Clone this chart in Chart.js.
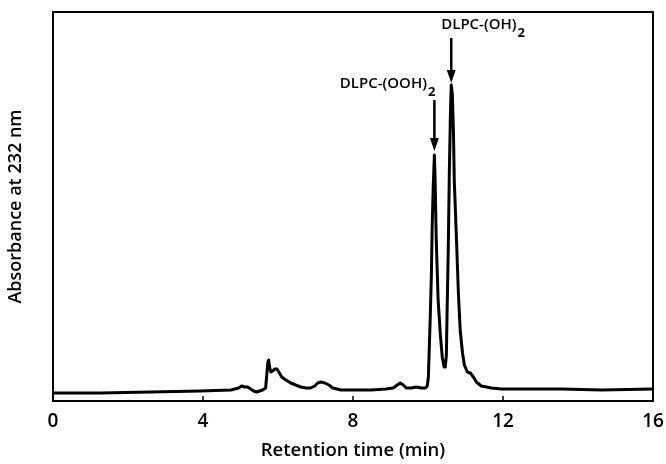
<!DOCTYPE html>
<html>
<head>
<meta charset="utf-8">
<script src="https://cdn.jsdelivr.net/npm/chart.js@4.4.1/dist/chart.umd.min.js"></script>
<style>
html,body{margin:0;padding:0;background:#fff;}
#wrap{width:666px;height:464px;position:relative;}
</style>
</head>
<body>
<div id="wrap"><canvas id="c" width="666" height="464"></canvas></div>
<script>
// Retention time (min)
const times = [0.00,1.26,2.60,3.93,4.74,4.95,5.03,5.11,5.19,5.27,5.35,5.43,5.59,5.67,5.70,5.73,5.75,5.78,5.81,5.86,5.91,5.97,6.02,6.10,6.21,6.34,6.47,6.61,6.74,6.87,6.98,7.06,7.14,7.25,7.36,7.46,7.57,7.68,7.95,8.48,8.88,9.07,9.18,9.26,9.34,9.42,9.55,9.69,9.82,9.93,9.98,10.01,10.03,10.06,10.09,10.11,10.14,10.17,10.19,10.22,10.27,10.33,10.38,10.43,10.46,10.49,10.51,10.54,10.57,10.60,10.62,10.65,10.68,10.70,10.76,10.81,10.86,10.92,10.97,11.05,11.13,11.21,11.29,11.42,11.56,11.69,11.96,12.49,13.56,14.63,16.00];
// Absorbance at 232 nm (arbitrary units)
const absorbance = [8,8,9,10,11,13,15,14,14,12,10,9,11,13,26,39,41,33,29,30,32,32,29,24,21,18,16,14,13,13,15,18,19,18,16,13,12,11,11,11,12,13,16,18,16,13,13,14,13,13,15,24,48,84,126,172,215,246,221,161,101,66,44,34,34,46,91,151,231,291,316,306,266,221,161,108,70,48,36,29,28,24,19,15,14,13,12,12,12,11,12];
const xTicks = [0,4,8,12,16];
const peakLabels = ['DLPC-(OOH)', 'DLPC-(OH)'];
const peakTimes = [10.17, 10.62];
const peakTops = [246, 316];

const FONT = '"Open Sans", "DejaVu Sans", sans-serif';

const framePlugin = {
  id: 'frame',
  afterDraw(chart) {
    const {ctx, chartArea: a, scales} = chart;
    ctx.save();
    ctx.strokeStyle = '#000';
    ctx.lineWidth = 2;
    ctx.strokeRect(a.left, a.top, a.right - a.left, a.bottom - a.top);
    // inward ticks
    ctx.lineWidth = 1.5;
    xTicks.forEach(v => {
      const px = scales.x.getPixelForValue(v);
      ctx.beginPath();
      ctx.moveTo(px, a.bottom);
      ctx.lineTo(px, a.bottom - 5);
      ctx.stroke();
    });
    // annotations
    ctx.fillStyle = '#000';
    const drawArrow = (x, y0, y1) => {
      ctx.lineWidth = 2.5;
      ctx.beginPath();
      ctx.moveTo(x, y0);
      ctx.lineTo(x, y1 - 10);
      ctx.stroke();
      ctx.beginPath();
      ctx.moveTo(x - 4.5, y1 - 13);
      ctx.lineTo(x + 4.5, y1 - 13);
      ctx.lineTo(x, y1);
      ctx.closePath();
      ctx.fill();
    };
    const drawLabel = (text, x, y, align) => {
      ctx.font = '600 15px ' + FONT;
      ctx.textBaseline = 'alphabetic';
      const w = ctx.measureText(text).width;
      ctx.font = 'bold 13px ' + FONT;
      const ws = ctx.measureText('2').width;
      let left = align === 'right' ? x - w - ws - 1 : x;
      ctx.font = '600 15px ' + FONT;
      ctx.textAlign = 'left';
      ctx.fillText(text, left, y);
      ctx.font = 'bold 13px ' + FONT;
      ctx.fillText('2', left + w + 1, y + 8);
    };
    const ys = scales.y;
    // OOH
    const x1 = scales.x.getPixelForValue(peakTimes[0]);
    const top1 = ys.getPixelForValue(peakTops[0]);
    drawArrow(x1, top1 - 55, top1 - 4);
    drawLabel(peakLabels[0], x1 + 1, top1 - 67, 'right');
    // OH
    const x2 = scales.x.getPixelForValue(peakTimes[1]);
    const top2 = ys.getPixelForValue(peakTops[1]);
    drawArrow(x2, top2 - 47, top2 - 2);
    drawLabel(peakLabels[1], x2 - 10, top2 - 56, 'left');
    ctx.restore();
  }
};

new Chart(document.getElementById('c'), {
  type: 'line',
  data: {
    datasets: [{
      data: times.map((t, i) => ({x: t, y: absorbance[i]})),
      borderColor: '#000',
      borderWidth: 3,
      pointRadius: 0,
      tension: 0,
      fill: false,
      borderJoinStyle: 'round',
      borderCapStyle: 'round'
    }]
  },
  options: {
    responsive: false,
    animation: false,
    devicePixelRatio: 1,
    layout: {padding: {top: 12, right: 13, left: 0, bottom: 0}},
    plugins: {legend: {display: false}, tooltip: {enabled: false}},
    scales: {
      x: {
        type: 'linear',
        min: 0, max: 16,
        afterBuildTicks: s => { s.ticks = xTicks.map(v => ({value: v})); },
        afterFit: s => { s.height = 63; },
        grid: {display: false},
        border: {display: false},
        ticks: {color: '#000', padding: 1, font: {family: FONT, size: 19, weight: '600'}, maxRotation: 0},
        title: {display: true, text: 'Retention time (min)', color: '#000', font: {family: FONT, size: 18.5, weight: '600'}, padding: {top: 2, bottom: 2}}
      },
      y: {
        type: 'linear',
        min: 0, max: 389,
        afterFit: s => { s.width = 53; },
        grid: {display: false},
        border: {display: false},
        ticks: {display: false},
        title: {display: true, text: 'Absorbance at 232 nm', color: '#000', font: {family: FONT, size: 18, weight: '600'}, padding: {top: 5, bottom: 8}}
      }
    }
  },
  plugins: [framePlugin]
});
</script>
</body>
</html>
